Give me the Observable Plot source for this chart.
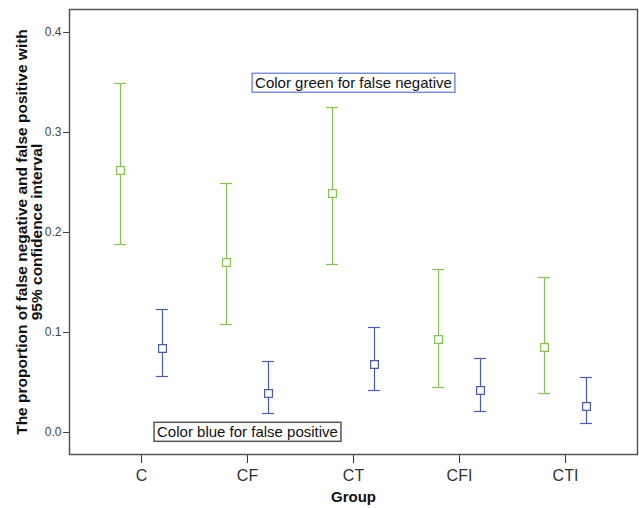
<!DOCTYPE html>
<html>
<head>
<meta charset="utf-8">
<script src="https://cdn.jsdelivr.net/npm/d3@7"></script>
<script src="https://cdn.jsdelivr.net/npm/@observablehq/plot@0.6"></script>
<style>
  html, body { margin: 0; padding: 0; background: #fff; }
  #chart { width: 639px; height: 508px; }
  svg { font-family: "Liberation Sans", Arial, sans-serif; }
</style>
</head>
<body>
<div id="chart"></div>
<script>
// Groups (x categories)
const groups = ["C", "CF", "CT", "CFI", "CTI"];

// False negative (green): mean and 95% CI
const fnMean  = [0.262, 0.170, 0.239, 0.093, 0.085];
const fnLower = [0.188, 0.108, 0.168, 0.045, 0.039];
const fnUpper = [0.349, 0.249, 0.325, 0.163, 0.155];

// False positive (blue): mean and 95% CI
const fpMean  = [0.084, 0.039, 0.068, 0.042, 0.026];
const fpLower = [0.056, 0.019, 0.042, 0.021, 0.009];
const fpUpper = [0.123, 0.071, 0.105, 0.074, 0.055];

const yTicks = [0.0, 0.1, 0.2, 0.3, 0.4];

// Annotations
const noteGroups = ["CT", "CF"];
const noteValues = [0.349, 0.0];
const noteTexts = ["Color green for false negative", "Color blue for false positive"];

const yLabel = "The proportion of false negative and false positive with\n95% confidence interval";
const xLabel = "Group";

const green = "#86c256";
const blue = "#4b5caf";

const fn = groups.map((g, i) => ({group: g, mean: fnMean[i], lo: fnLower[i], hi: fnUpper[i]}));
const fp = groups.map((g, i) => ({group: g, mean: fpMean[i], lo: fpLower[i], hi: fpUpper[i]}));
const notes = noteTexts.map((t, i) => ({group: noteGroups[i], value: noteValues[i], text: t}));

function errorMarks(data, color, off) {
  return [
    Plot.ruleX(data, {x: "group", y1: "lo", y2: "hi", stroke: color, strokeWidth: 1.2, dx: off}),
    Plot.tickY(data, {x: "group", y: "lo", stroke: color, strokeWidth: 1.2, dx: off}),
    Plot.tickY(data, {x: "group", y: "hi", stroke: color, strokeWidth: 1.2, dx: off}),
    Plot.dot(data, {x: "group", y: "mean", symbol: "square", r: 4.4, stroke: color, fill: "white", strokeWidth: 1.2, dx: off})
  ];
}

const chart = Plot.plot({
  width: 639,
  height: 508,
  marginLeft: 69,
  marginRight: 2,
  marginTop: 9,
  marginBottom: 54,
  style: {fontFamily: "Liberation Sans, Arial, sans-serif", background: "white"},
  x: {type: "band", domain: groups, paddingInner: 0.887, paddingOuter: 0.61, label: null},
  y: {domain: [-0.022, 0.423], label: null},
  marks: [
    Plot.axisY({ticks: yTicks, tickFormat: d3.format(".1f"), tickSize: 6, tickPadding: 2, fontSize: 12, color: "#444", label: null}),
    Plot.axisX({tickSize: 9, tickPadding: 6, fontSize: 16, color: "#333", label: null}),
    ...errorMarks(fn, green, -21),
    ...errorMarks(fp, blue, 21),
    Plot.text(notes, {x: "group", y: "value", text: "text", fontSize: 15, fill: "#111", className: "note"}),
    Plot.frame({stroke: "#555", strokeWidth: 1.5}),
    Plot.text([yLabel], {frameAnchor: "left", textAnchor: "middle", lineAnchor: "middle", rotate: -90, dx: -40, fontSize: 15.5, fontWeight: "bold", fill: "#111", lineHeight: 0.97}),
    Plot.text([xLabel], {frameAnchor: "bottom", lineAnchor: "middle", dy: 43, fontSize: 15, fontWeight: "bold", fill: "#111"})
  ]
});

document.getElementById("chart").appendChild(chart);

// Draw boxes around annotation texts
const borderColors = ["#7a8fd0", "#555"];
d3.select(chart).selectAll("g.note text").each(function(d, i) {
  const bb = this.getBBox();
  const t = this.getAttribute("transform");
  const r = d3.select(this.parentNode).insert("rect", () => this)
    .attr("x", bb.x - 3).attr("y", bb.y - 1)
    .attr("width", bb.width + 6).attr("height", bb.height + 2)
    .attr("fill", "white")
    .attr("stroke", borderColors[i % 2])
    .attr("stroke-width", 1.5);
  if (t) r.attr("transform", t);
});
</script>
</body>
</html>
